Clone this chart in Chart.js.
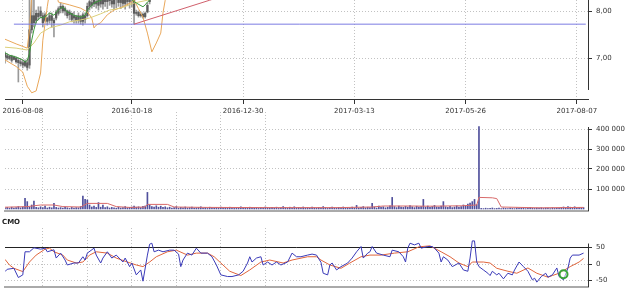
<!DOCTYPE html>
<html><head><meta charset="utf-8">
<script src="https://cdn.jsdelivr.net/npm/chart.js@4.4.1/dist/chart.umd.min.js"></script>
<style>
html,body{margin:0;padding:0;background:#fff;width:625px;height:290px;overflow:hidden}
canvas{position:absolute;left:0}
#c1{top:0}#c2{top:112px}#c3{top:214px}
</style></head><body>
<canvas id="c1" width="625" height="120"></canvas>
<canvas id="c2" width="625" height="101"></canvas>
<canvas id="c3" width="625" height="76"></canvas>
<script>
// ---------------- data ----------------
const tickLabels = ['2016-08-08','2016-10-18','2016-12-30','2017-03-13','2017-05-26','2017-08-07'];
const tickBars = [8, 57, 107, 157, 207, 257];
const gridBars = [17,37,57,77,97,117,137,157,177,197,217,237,257];
const priceTicks = [7, 8];
const volumeTicks = [100000, 200000, 300000, 400000];
const cmoTicks = [-50, 0, 50];

const candleOpen = [
 7.10,7.05,6.99,7.04,6.97,7.00,6.95,6.92,6.90,6.84,
 6.90,6.85,7.60,7.90,7.80,7.95,7.90,7.90,7.80,7.85,
 7.80,7.90,7.80,7.85,7.95,8.05,8.10,8.00,8.00,7.92,
 7.95,7.85,7.88,7.80,7.88,7.78,7.90,7.90,8.10,8.18,
 8.15,8.20,8.12,8.25,8.15,8.28,8.20,8.30,8.22,8.15,
 8.24,8.30,8.18,8.27,8.16,8.30,8.20,8.25,8.30,7.95,
 7.97,7.90,7.93,7.88,7.98,8.20];
const candleHigh = [
 7.13,7.09,7.06,7.06,7.04,7.02,7.00,6.98,6.96,6.96,
 6.96,8.40,8.40,8.35,8.02,8.09,8.09,7.96,7.96,7.87,
 7.96,7.96,7.85,8.02,8.09,8.17,8.13,8.09,8.02,8.02,
 7.96,7.98,7.91,7.96,7.91,7.96,7.96,8.17,8.30,8.32,
 8.35,8.38,8.36,8.40,8.35,8.42,8.38,8.45,8.40,8.36,
 8.39,8.44,8.38,8.41,8.37,8.43,8.39,8.40,8.35,8.02,
 8.00,7.98,7.96,7.98,8.17,8.40];
const candleLow = [
 6.89,6.96,6.96,6.91,6.96,6.89,6.49,6.83,6.79,6.81,
 6.74,6.78,7.53,7.66,7.74,7.81,7.85,7.66,7.77,7.70,
 7.74,7.66,7.45,7.81,7.91,7.96,7.96,7.91,7.85,7.81,
 7.77,7.74,7.74,7.74,7.72,7.70,7.74,7.87,8.02,8.06,
 8.09,8.06,8.02,8.08,8.04,8.10,8.05,8.12,8.08,8.03,
 8.07,8.10,8.05,8.09,8.04,8.11,8.06,8.08,7.72,7.91,
 7.87,7.87,7.85,7.85,7.96,8.15];
const candleClose = [
 7.02,7.00,7.04,6.95,7.02,6.92,6.90,6.88,6.85,6.93,
 6.80,7.60,7.90,7.75,7.95,7.88,8.00,7.75,7.92,7.78,
 7.90,7.80,7.75,7.98,8.05,8.10,8.00,8.05,7.90,7.98,
 7.82,7.90,7.80,7.90,7.78,7.92,7.82,8.10,8.20,8.12,
 8.25,8.15,8.25,8.15,8.28,8.20,8.30,8.22,8.15,8.24,
 8.30,8.18,8.27,8.16,8.30,8.20,8.25,8.30,7.95,7.97,
 7.90,7.93,7.88,7.95,8.12,8.35];

const maShort = [[0,7.11],[2,7.06],[5,7.02],[8,6.96],[9,6.91],[10,6.95],[11,7.10],[12,7.38],[13,7.60],[14,7.77],[16,7.87],[17,7.85],[19,7.91],[20,7.96],[22,7.91],[24,8.02],[26,8.09],[28,7.98],[31,7.91],[34,7.87],[36,7.91],[37,8.02],[40,8.17],[43,8.23],[46,8.30],[55,8.32],[58,8.20],[59,8.17],[62,8.09],[63,8.13],[64,8.19],[65,8.23],[67,8.30]];
const maMid = [[0,7.23],[5,7.21],[10,7.17],[13,7.32],[16,7.53],[20,7.64],[25,7.70],[29,7.77],[34,7.81],[38,7.85],[43,7.94],[47,8.02],[52,8.06],[58,8.17],[64,8.23],[70,8.30]];
const bandUpper = [[0,7.40],[5,7.30],[10,7.21],[11,7.60],[12,8.30],[13,8.80]];
const bandLower = [[0,6.96],[5,6.82],[8,6.70],[10,6.40],[12,6.26],[14,6.30],[16,6.68],[17,7.38],[19,8.09],[20,8.40],[23,8.40],[24,8.19],[29,8.13],[34,8.06],[37,7.98],[39,7.85],[40,7.64],[41,7.70],[43,7.75],[46,7.92],[49,8.02],[53,8.09],[57,8.19],[58,8.23],[60,8.05],[62,7.87],[64,7.53],[66,7.13],[68,7.32],[70,7.53],[71,7.96],[72,8.23],[73,8.50]];
const supportLevel = [[4,7.72],[261,7.72]];
const trendLine = [[58,7.72],[92,8.23],[120,8.65]];

const volume = [
 6000,8000,4000,9000,5000,7000,12000,6000,10000,53000,
 37000,9000,20000,40000,8000,6000,11000,7000,14000,5000,
 9000,6000,28000,8000,5000,7000,4000,9000,6000,3000,
 8000,5000,7000,6000,12000,65000,48000,45000,20000,10000,
 14000,8000,32000,9000,20000,7000,11000,5000,8000,6000,
 4000,9000,5000,7000,12000,6000,8000,10000,14000,9000,
 11000,7000,13000,15000,83000,20000,12000,10000,16000,9000,
 14000,8000,11000,6000,9000,5000,7000,12000,4000,8000,
 6000,10000,5000,7000,9000,4000,6000,8000,11000,5000,
 7000,3000,9000,6000,4000,8000,5000,10000,6000,7000,
 4000,9000,5000,3000,8000,6000,11000,4000,7000,5000,
 9000,6000,4000,8000,3000,7000,5000,10000,6000,4000,
 8000,5000,9000,3000,6000,12000,7000,4000,9000,5000,
 11000,6000,8000,4000,10000,5000,7000,3000,9000,6000,
 4000,8000,5000,12000,7000,3000,6000,9000,5000,4000,
 8000,6000,10000,5000,7000,4000,9000,6000,18000,5000,
 8000,12000,6000,9000,7000,28000,10000,5000,14000,8000,
 11000,6000,9000,16000,58000,12000,7000,15000,10000,8000,
 13000,9000,17000,11000,7000,14000,10000,12000,48000,9000,
 15000,8000,12000,18000,10000,9000,14000,37000,11000,8000,
 13000,7000,10000,16000,9000,12000,20000,15000,24000,30000,
 37000,48000,22000,412000,3000,2000,4000,2000,3000,5000,
 2000,3000,4000,2000,5000,3000,2000,4000,3000,2000,
 5000,3000,4000,6000,2000,3000,7000,4000,3000,5000,
 4000,6000,3000,5000,4000,2000,6000,3000,5000,4000,
 8000,10000,6000,12000,9000,7000,11000,5000,8000,6000,
 7000];
const volumeMA = [[0,9000],[10,12000],[16,20000],[22,20000],[26,12000],[34,10000],[37,28000],[46,28000],[50,12000],[56,8000],[63,10000],[64,23000],[73,23000],[76,10000],[90,8000],[120,7000],[150,7000],[165,10000],[170,15000],[182,15000],[190,14000],[205,16000],[212,20000],[213,58000],[219,56000],[221,52000],[223,10000],[240,6000],[260,8000]];

const cmo = [[0,-23],[1,-16],[4,-13],[6,-41],[8,-33],[9,37],[11,37],[13,49],[16,45],[18,48],[19,37],[22,43],[23,18],[25,33],[27,12],[28,-3],[31,3],[33,3],[35,22],[36,12],[37,33],[40,48],[41,27],[43,3],[44,18],[46,37],[48,18],[50,27],[53,6],[54,18],[56,-8],[57,3],[59,-33],[61,-18],[62,-52],[64,27],[65,60],[66,63],[67,37],[69,42],[71,37],[74,42],[76,42],[78,30],[79,-8],[80,12],[82,33],[84,27],[86,48],[88,33],[91,33],[93,22],[95,-3],[97,-33],[100,-38],[102,-38],[105,-33],[107,-22],[109,3],[110,22],[111,6],[113,18],[115,22],[116,-3],[118,6],[120,-3],[122,6],[124,-3],[127,6],[129,33],[131,22],[133,22],[136,27],[138,30],[140,27],[142,5],[143,-28],[145,-33],[146,-3],[147,3],[149,-18],[151,-8],[154,3],[156,18],[158,37],[160,53],[161,18],[163,33],[164,37],[165,53],[167,33],[170,27],[173,22],[174,42],[177,37],[179,22],[180,6],[181,48],[182,63],[184,58],[186,63],[187,48],[190,53],[192,53],[193,48],[195,33],[196,6],[197,22],[199,12],[201,-8],[204,3],[206,-18],[208,-22],[209,18],[210,70],[211,70],[212,6],[213,-8],[215,-18],[217,-28],[218,-35],[219,-22],[221,-33],[222,-28],[224,-45],[226,-28],[228,-33],[229,-18],[231,6],[233,-8],[235,-22],[237,-48],[238,-43],[239,-55],[241,-38],[243,-28],[244,-40],[246,-33],[248,-12],[249,-38],[251,-48],[253,-12],[254,18],[255,27],[258,27],[260,33]];
const cmoSignal = [[0,14],[2,-3],[4,-13],[8,-23],[11,6],[14,27],[18,45],[20,48],[22,37],[26,27],[28,12],[32,3],[35,6],[38,27],[41,37],[46,33],[50,18],[55,6],[59,-3],[62,-8],[65,6],[68,22],[73,37],[77,42],[82,27],[86,33],[91,33],[94,22],[97,3],[101,-22],[106,-35],[110,-18],[115,6],[119,12],[125,3],[129,12],[136,22],[140,22],[142,12],[146,-3],[151,-13],[155,3],[160,22],[164,27],[169,27],[175,33],[181,37],[186,52],[191,55],[196,37],[200,22],[204,3],[208,-8],[210,6],[215,6],[218,3],[221,-13],[226,-22],[230,-28],[235,-12],[239,-28],[244,-40],[246,-35],[249,-28],[254,-8],[258,6],[260,17]];
const cmoLevel = [[0,50],[262,50]];
const cmoMarker = [[251,-31]];

// ---------------- helpers ----------------
Chart.defaults.font.family = 'DejaVu Sans';
Chart.defaults.font.size = 7;
Chart.defaults.color = '#333';
const GRID = '#c2c2c2';
const pts = a => a.map(([x, y]) => ({x, y}));
const line = (a, c, w) => ({type: 'line', data: pts(a), borderColor: c, borderWidth: w || 1, pointRadius: 0, tension: 0, fill: false});

const axisLine = {
  id: 'axisLine',
  afterDatasetsDraw(chart, args, o) {
    const s = chart.scales.y, ctx = chart.ctx;
    const y1 = s.getPixelForValue(o.from);
    const y2 = o.to == null ? chart.chartArea.bottom : s.getPixelForValue(o.to);
    ctx.save(); ctx.strokeStyle = '#333'; ctx.lineWidth = 1;
    ctx.beginPath(); ctx.moveTo(Math.round(s.left) + 0.5, y1); ctx.lineTo(Math.round(s.left) + 0.5, y2); ctx.stroke();
    ctx.restore();
  }
};

function xAxis(ticks, height, labels, bColor, bWidth) {
  return {
    type: 'linear', min: 0, max: 262, offset: false, stacked: true,
    afterBuildTicks: ax => { ax.ticks = ticks.map(v => ({value: v})); },
    afterFit: ax => { ax.height = height; ax.paddingLeft = 0; ax.paddingRight = 0; },
    grid: {color: GRID, lineWidth: 1, drawTicks: labels, tickLength: 5, tickColor: '#333', tickBorderDash: [], offset: false},
    border: {display: true, color: bColor, width: bWidth, dash: [1, 2]},
    ticks: {display: labels, autoSkip: false, maxRotation: 0, minRotation: 0, padding: 3, color: '#333',
            font: {size: 7}, callback: (v, i) => tickLabels[i]}
  };
}
function yAxis(min, max, ticks, fmt) {
  return {
    type: 'linear', position: 'right', min, max, stacked: false,
    afterBuildTicks: ax => { ax.ticks = ticks.map(v => ({value: v})); },
    afterFit: ax => { ax.width = 37; ax.paddingTop = 0; ax.paddingBottom = 0; },
    grid: {color: GRID, lineWidth: 1, drawTicks: true, tickLength: 4, tickColor: '#333', tickBorderDash: []},
    border: {display: false, dash: [1, 2]},
    ticks: {padding: 4, color: '#333', font: {size: 7}, callback: fmt}
  };
}
const base = {
  responsive: false, animation: false, devicePixelRatio: 1, events: [],
  layout: {padding: {left: 5, right: 0, top: 0, bottom: 0}, autoPadding: false}
};
const thousands = v => String(v).replace(/\B(?=(\d{3})+(?!\d))/g, ' ');

// ---------------- price panel ----------------
new Chart(document.getElementById('c1'), {
  type: 'bar',
  data: {datasets: [
    line(trendLine, '#d0606c'),
    line(supportLevel, '#7b7be2'),
    line(maShort, '#3d9a3d'),
    line(maMid, '#dcd07a'),
    line(bandUpper, '#e9a75a'),
    line(bandLower, '#e9a75a'),
    {type: 'bar', data: candleOpen.map((o, i) => ({x: i, y: [Math.min(o, candleClose[i]), Math.max(o, candleClose[i])]})),
     backgroundColor: '#5c5c5c', barThickness: 1.6, borderWidth: 0},
    {type: 'bar', data: candleLow.map((l, i) => ({x: i, y: [l, candleHigh[i]]})),
     backgroundColor: '#999', barThickness: 1, borderWidth: 0}
  ]},
  options: Object.assign({}, base, {
    scales: {
      x: xAxis(tickBars, 21, true, '#333', 1),
      y: yAxis(6.128, 8.234, priceTicks, v => v.toFixed(2).replace('.', ','))
    },
    plugins: {legend: {display: false}, tooltip: {enabled: false}, axisLine: {from: 8.234, to: 6.32}}
  }),
  plugins: [axisLine]
});

// ---------------- volume panel ----------------
new Chart(document.getElementById('c2'), {
  type: 'bar',
  data: {datasets: [
    line(volumeMA, '#d86a6a'),
    {type: 'bar', data: volume.map((v, i) => ({x: i, y: v})), backgroundColor: '#50509c', barThickness: 1, borderWidth: 0}
  ]},
  options: Object.assign({}, base, {
    scales: {
      x: xAxis(gridBars, 2, false, '#aaa', 2),
      y: yAxis(-10000, 485000, volumeTicks, thousands)
    },
    plugins: {legend: {display: false}, tooltip: {enabled: false}, axisLine: {from: 410000}}
  }),
  plugins: [axisLine]
});

// ---------------- CMO panel ----------------
new Chart(document.getElementById('c3'), {
  type: 'line',
  data: {datasets: [
    {type: 'line', data: pts(cmoMarker), showLine: false, pointRadius: 4, pointBorderWidth: 2,
     pointBorderColor: '#3aa43a', pointBackgroundColor: 'rgba(255,255,255,0.5)'},
    line(cmo, '#3a3ab8'),
    line(cmoSignal, '#e0653c'),
    line(cmoLevel, '#222')
  ]},
  options: Object.assign({}, base, {
    layout: {padding: {left: 2, right: 0, top: 0, bottom: 0}, autoPadding: false},
    scales: {
      x: xAxis(gridBars, 3, false, '#aaa', 2),
      y: yAxis(-69.7, 109.1, cmoTicks, v => String(v)),
      pad: {type: 'linear', position: 'left', display: true, afterFit: ax => { ax.width = 3; },
            grid: {display: false}, ticks: {display: false}, border: {display: false}}
    },
    plugins: {legend: {display: false}, tooltip: {enabled: false}, axisLine: {from: 62},
      title: {display: true, text: 'CMO', align: 'start', color: '#222',
              font: {size: 7, weight: 'bold'}, padding: {top: 4, bottom: 1.6}}}
  }),
  plugins: [axisLine]
});
</script></body></html>
